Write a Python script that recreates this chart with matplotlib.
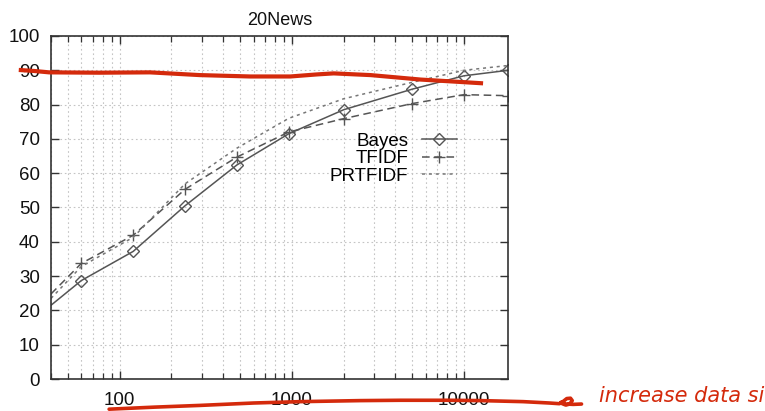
import matplotlib
matplotlib.use("Agg")
import matplotlib.pyplot as plt
from matplotlib.ticker import LogLocator, FixedLocator, NullFormatter, FixedFormatter

# ---- data ----
train_sizes = [40, 60, 120, 240, 480, 960, 2000, 5000, 10000, 18000]
bayes = [21.5, 28.7, 37.2, 50.5, 62.4, 71.5, 78.5, 84.5, 88.4, 90.0]
tfidf = [24.8, 33.7, 41.9, 55.3, 64.7, 72.0, 75.9, 80.3, 82.9, 82.6]
prtfidf = [23.5, 32.8, 41.3, 56.9, 67.3, 76.0, 81.7, 86.5, 90.0, 91.4]
series_names = ["Bayes", "TFIDF", "PRTFIDF"]
title = "20News"
xtick_values = [100, 1000, 10000]
xtick_labels = ["100", "1000", "10000"]
ytick_values = [0, 10, 20, 30, 40, 50, 60, 70, 80, 90, 100]

# handwritten red annotations (data coordinates)
red_top_x = [26, 32, 39, 76, 150, 293, 573, 980, 1400, 1750, 2870, 5600, 12900]
red_top_y = [90.1, 89.8, 89.4, 89.3, 89.4, 88.6, 88.2, 88.2, 88.8, 89.1, 88.6, 87.3, 86.2]
red_bot_x = [87, 160, 293, 600, 1120, 2500, 4300, 8000, 12500, 22000, 31300, 35800,
             37500, 39500, 41500, 42500, 41000, 39000, 37200, 36500, 39000, 43000, 48100]
red_bot_y = [-8.8, -8.2, -7.7, -7.0, -6.6, -6.3, -6.2, -6.2, -6.3, -6.6, -7.0, -7.2,
             -6.6, -5.7, -5.6, -6.3, -7.3, -7.6, -7.2, -6.8, -7.3, -7.4, -7.3]
note_text = "increase data si"
note_x, note_y = 61000, -6.6

plt.rcParams['font.family'] = ['Liberation Sans', 'DejaVu Sans']

fig = plt.figure(figsize=(7.65, 4.11), dpi=100)
ax = fig.add_axes([51/765, 32/411, 457/765, 343/411])

gray = "#555555"
ax.plot(train_sizes, bayes, color=gray, lw=1.1, ls='-', marker='D', ms=6.2,
        mfc='none', mec=gray, mew=1.0, markevery=slice(1, None), label=series_names[0])
ax.plot(train_sizes, tfidf, color=gray, lw=1.1, ls=(0, (5, 3)), marker='+', ms=9,
        mew=1.0, markevery=slice(1, None), label=series_names[1])
ax.plot(train_sizes, prtfidf, color="#777777", lw=1.1, ls=(0, (2, 2.5)),
        label=series_names[2])

ax.set_xscale('log')
ax.set_xlim(40, 18000)
ax.set_ylim(0, 100)
ax.xaxis.set_major_locator(FixedLocator(xtick_values))
ax.xaxis.set_major_formatter(FixedFormatter(xtick_labels))
ax.xaxis.set_minor_locator(LogLocator(base=10, subs=range(2, 10)))
ax.xaxis.set_minor_formatter(NullFormatter())
ax.set_yticks(ytick_values)

ax.grid(True, which='both', axis='x', color='#c4c4c4', ls=(0, (1.5, 2.5)), lw=0.8)
ax.grid(True, which='major', axis='y', color='#c4c4c4', ls=(0, (1.5, 2.5)), lw=0.8)
ax.set_axisbelow(True)

ax.tick_params(which='major', direction='in', length=6, width=1.0, color='#333333',
               top=True, right=True, labelsize=13.5, labelcolor='#111111')
ax.tick_params(which='minor', direction='in', length=4, width=0.9, color='#333333',
               top=True, right=True)
ax.tick_params(axis='x', which='major', pad=9)
ax.tick_params(axis='y', which='major', pad=8)
for s in ax.spines.values():
    s.set_color('#333333')
    s.set_linewidth(1.2)

ax.set_title(title, fontsize=13, pad=8, color='#111111')

leg = ax.legend(loc='upper right', bbox_to_anchor=(0.888, 0.718), frameon=False,
                markerfirst=False, handlelength=1.85, handletextpad=0.75,
                labelspacing=0.02, fontsize=13.5, borderpad=0, borderaxespad=0)

# red annotations
red = "#d42a0c"
ax.plot(red_top_x, red_top_y, color=red, lw=3.0, solid_capstyle='butt',
        solid_joinstyle='round', clip_on=False, zorder=5)
ax.plot(red_bot_x, red_bot_y, color=red, lw=2.6, solid_capstyle='round',
        solid_joinstyle='round', clip_on=False, zorder=5)
ax.text(note_x, note_y, note_text, color=red, fontsize=15, fontstyle='italic',
        family=['DejaVu Sans'], va='baseline', ha='left', clip_on=False)

fig.savefig("out.png", dpi=100)
